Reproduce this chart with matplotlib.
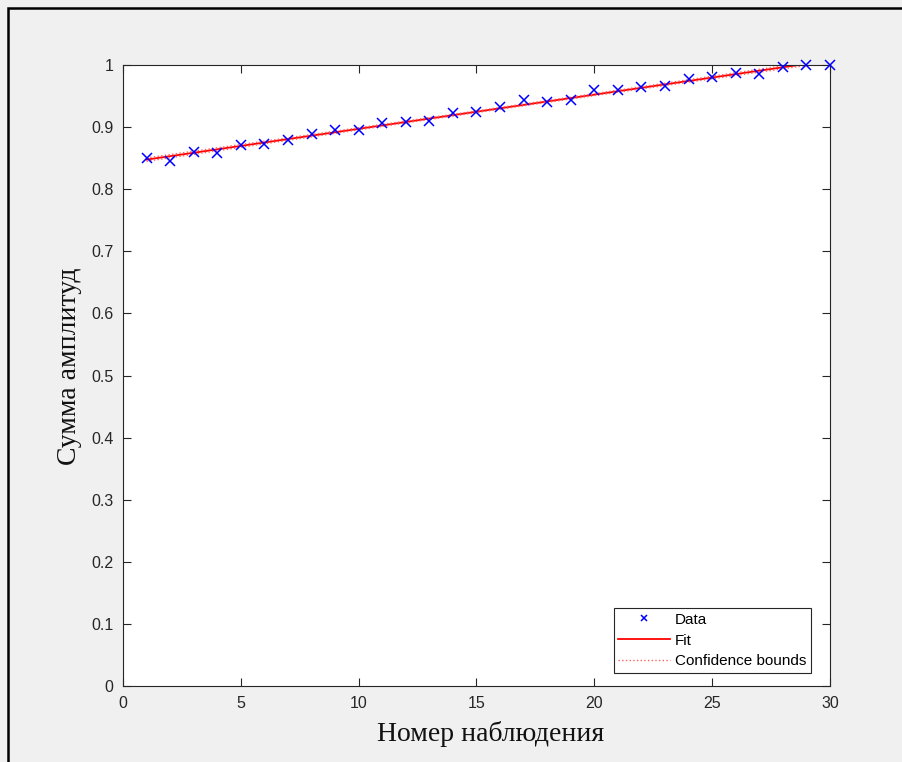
import numpy as np
import matplotlib.pyplot as plt
from matplotlib.patches import Rectangle

# Данные: номер наблюдения и нормированная сумма амплитуд
nums = np.arange(1, 31)
amp_sum = [0.850, 0.846, 0.860, 0.858, 0.871, 0.873, 0.879, 0.889, 0.895, 0.895,
           0.906, 0.908, 0.910, 0.923, 0.925, 0.933, 0.943, 0.941, 0.943, 0.959,
           0.959, 0.964, 0.966, 0.978, 0.981, 0.987, 0.986, 0.997, 1.000, 1.000]

xticks = [0, 5, 10, 15, 20, 25, 30]
yticks = [0, 0.1, 0.2, 0.3, 0.4, 0.5, 0.6, 0.7, 0.8, 0.9, 1]
ytick_labels = ['0', '0.1', '0.2', '0.3', '0.4', '0.5', '0.6', '0.7', '0.8', '0.9', '1']

# Линейная аппроксимация и 95% доверительные границы
y = np.array(amp_sum)
k, b = np.polyfit(nums, y, 1)
xf = np.linspace(1, 30, 300)
yf = k * xf + b
resid = y - (k * nums + b)
s = np.sqrt(np.sum(resid ** 2) / (len(nums) - 2))
sxx = np.sum((nums - nums.mean()) ** 2)
t95 = 2.048
half = t95 * s * np.sqrt(1 / len(nums) + (xf - nums.mean()) ** 2 / sxx)

grey = '#262626'
fig = plt.figure(figsize=(9.03, 7.62), dpi=100, facecolor='#f0f0f0')
ax = fig.add_axes([123 / 903, 76 / 762, 707 / 903, 621 / 762])
ax.set_facecolor('white')

ax.plot(nums, y, 'x', color='blue', markersize=6.5, markeredgewidth=1.1, label='Data',
        zorder=3, clip_on=False)
ax.plot(xf, yf, '-', color='red', linewidth=1.3, label='Fit', zorder=2)
ax.plot(xf, yf + half, ':', color='#ff6060', linewidth=1.0, label='Confidence bounds', zorder=2)
ax.plot(xf, yf - half, ':', color='#ff6060', linewidth=1.0, zorder=2)

ax.set_xlim(0, 30)
ax.set_ylim(0, 1)
ax.set_xticks(xticks)
ax.set_yticks(yticks)
ax.set_yticklabels(ytick_labels)
ax.tick_params(direction='in', top=True, right=True, length=6, width=0.8,
               colors=grey, labelsize=11.5, labelcolor=grey, pad=7)
for lab in ax.get_xticklabels() + ax.get_yticklabels():
    lab.set_family('Liberation Sans')
for sp in ax.spines.values():
    sp.set_color(grey)
    sp.set_linewidth(0.8)

ax.set_xlabel('Номер наблюдения', fontsize=20, family='Liberation Serif', color='#111111')
ax.set_ylabel('Сумма амплитуд', fontsize=20, family='Liberation Serif', color='#111111')
ax.xaxis.set_label_coords(0.52, -0.056)
ax.yaxis.set_label_coords(-0.058, 0.515)

leg = ax.legend(loc='lower right', bbox_to_anchor=(0.973, 0.021), borderaxespad=0,
                fancybox=False, framealpha=1, edgecolor=grey, handlelength=3.4,
                prop={'family': 'Liberation Sans', 'size': 11}, labelspacing=0.45,
                borderpad=0.3, handletextpad=0.3, markerscale=0.75)
leg.get_frame().set_linewidth(0.8)

# рамка окна
fig.patches.append(Rectangle((8 / 903, -0.01), 1.0, (762 - 8) / 762 + 0.01,
                             transform=fig.transFigure, fill=False,
                             edgecolor='black', linewidth=1.8))

fig.savefig('out.png', dpi=100, facecolor=fig.get_facecolor())
